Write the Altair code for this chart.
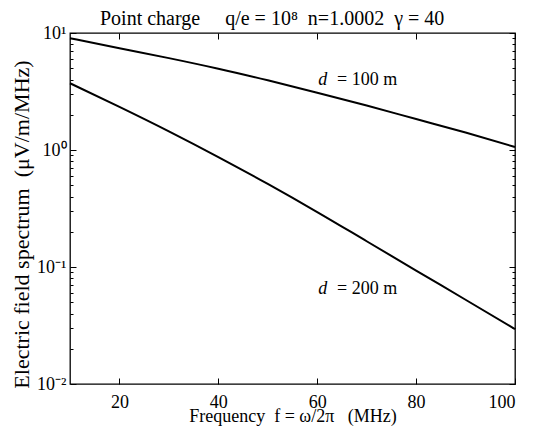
import altair as alt
import pandas as pd

# ---- data ----
freq = [10, 20, 30, 40, 50, 60, 70, 80, 90, 100]
d100 = [9.02, 7.41, 6.10, 4.95, 3.94, 3.09, 2.40, 1.84, 1.41, 1.06]
d200 = [3.72, 2.34, 1.445, 0.871, 0.513, 0.295, 0.166, 0.0933, 0.0525, 0.0295]

series_names = ["d = 100 m", "d = 200 m"]
label_rest = ["=\u00a0100 m", "=\u00a0200 m"]
label_f_d = [60.2, 60.2]
label_f_eq = [64.0, 64.0]
label_val = [3.96, 0.0648]

x_ticks = [20, 40, 60, 80, 100]
y_decades = [0.01, 0.1, 1, 10]
y_ticks = [round(m * 10.0 ** e, 6) for e in range(-2, 1) for m in range(1, 10)] + [10]

FONT = "Liberation Serif"
FS = 18
W, H = 445, 351

rows = []
for name, vals in zip(series_names, [d100, d200]):
    for f, v in zip(freq, vals):
        rows.append({"f": f, "v": v, "d": name})
df = pd.DataFrame(rows)

lab = pd.DataFrame({"fd": label_f_d, "fe": label_f_eq, "v": label_val,
                    "d": ["d", "d"], "rest": label_rest})

xs = alt.Scale(domain=[10, 100], nice=False, zero=False)
ys = alt.Scale(type="log", domain=[0.01, 10], nice=False)

major_test = "abs(log(datum.value)/LN10 - round(log(datum.value)/LN10)) < 0.001"
ysize = {"condition": {"test": major_test, "value": 6}, "value": 3}

ylab_expr = ("datum.value >= 5 ? '10¹' : datum.value >= 0.5 ? '10⁰' : "
             "datum.value >= 0.05 ? '10⁻¹' : '10⁻²'")

base = alt.Chart(df)
enc_common = dict(detail="d:N")

line_main = base.mark_line(color="black", strokeWidth=2, interpolate="monotone").encode(
    x=alt.X("f:Q", scale=xs, axis=alt.Axis(
        values=x_ticks, ticks=False, domain=False, grid=False,
        title="Frequency\u00a0\u00a0f = ω/2π\u00a0\u00a0\u00a0(MHz)",
        labelPadding=9, titlePadding=-4, format="d")),
    y=alt.Y("v:Q", scale=ys, axis=alt.Axis(
        values=y_decades, ticks=False, domain=False, grid=False,
        labelExpr=ylab_expr, labelPadding=4,
        title="Electric field spectrum\u00a0\u00a0(μV/m/MHz)", titlePadding=3,
        titleFontSize=22, titleY=191)),
    **enc_common)

ticks_a = base.mark_line(opacity=0).encode(
    x=alt.X("f:Q", scale=xs, axis=alt.Axis(
        orient="top", offset=-H, values=x_ticks, labels=False, domain=False,
        grid=False, title=None, tickSize=6)),
    y=alt.Y("v:Q", scale=ys, axis=alt.Axis(
        orient="right", offset=-W, values=y_ticks, labels=False, domain=False,
        grid=False, title=None, tickSize=ysize)),
    **enc_common)

ticks_b = base.mark_line(opacity=0).encode(
    x=alt.X("f:Q", scale=xs, axis=alt.Axis(
        orient="bottom", offset=-H, values=x_ticks, labels=False, domain=False,
        grid=False, title=None, tickSize=6)),
    y=alt.Y("v:Q", scale=ys, axis=alt.Axis(
        orient="left", offset=-W, values=y_ticks, labels=False, domain=False,
        grid=False, title=None, tickSize=ysize)),
    **enc_common)

lab_d = alt.Chart(lab).mark_text(font=FONT, fontSize=FS, fontStyle="italic",
                                 align="left", baseline="middle", color="black").encode(
    x=alt.X("fd:Q", scale=xs, axis=None),
    y=alt.Y("v:Q", scale=ys, axis=None),
    text="d:N")

lab_rest = alt.Chart(lab).mark_text(font=FONT, fontSize=FS,
                                    align="left", baseline="middle", color="black").encode(
    x=alt.X("fe:Q", scale=xs, axis=None),
    y=alt.Y("v:Q", scale=ys, axis=None),
    text="rest:N")

chart = alt.layer(line_main, ticks_a, ticks_b, lab_d, lab_rest).resolve_axis(
    x="independent", y="independent"
).properties(
    width=W, height=H,
    title=alt.TitleParams(
        "Point charge\u00a0\u00a0\u00a0\u00a0\u00a0q/e = 10⁸\u00a0\u00a0n=1.0002\u00a0\u00a0γ = 40",
        anchor="start", frame="group", dx=30, offset=-5, font=FONT, fontSize=20,
        fontWeight="normal", color="black"),
    autosize=alt.AutoSizeParams(type="none"),
    padding={"left": 62, "top": 25, "right": 22, "bottom": 42},
).configure_view(
    stroke="black", strokeWidth=1.3
).configure_axis(
    labelFont=FONT, labelFontSize=FS, labelColor="black",
    titleFont=FONT, titleFontSize=FS, titleFontWeight="normal", titleColor="black",
    tickColor="black", tickWidth=1
)

chart.save("out.html", embed_options={"renderer": "svg", "actions": False})
